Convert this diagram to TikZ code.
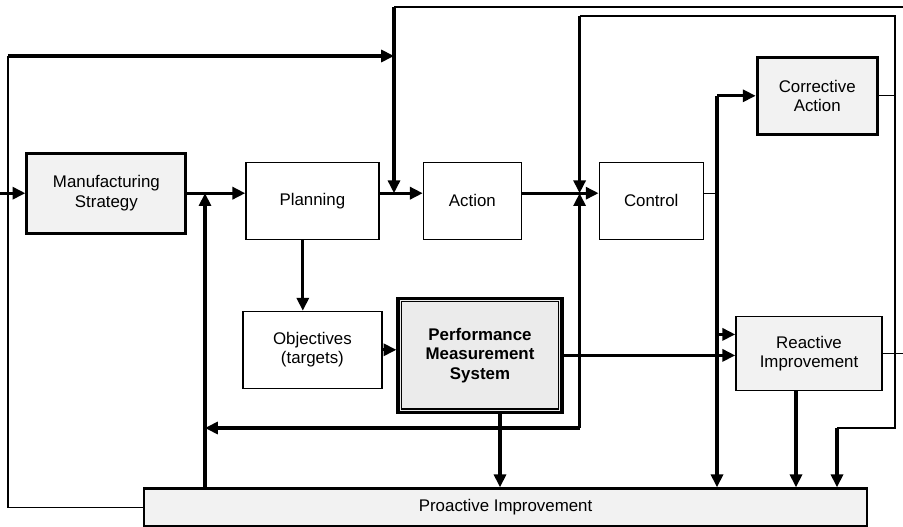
\documentclass[tikz,border=0pt]{standalone}
\usepackage{fontspec}
\setmainfont{Liberation Sans}
\usepackage{tikz}
\usetikzlibrary{arrows.meta,positioning}

\definecolor{boxgray}{gray}{0.95}
\definecolor{measgray}{gray}{0.92}

\begin{document}
\begin{tikzpicture}[
    node distance=4cm,
    box/.style={rectangle, draw, line width=0.9pt, align=center, minimum height=1.925cm, font=\fontsize{12}{13.8}\selectfont},
    keybox/.style={box, line width=2.2pt, fill=boxgray},
    measbox/.style={box, line width=2.3pt, fill=measgray, font=\fontsize{12}{13.8}\selectfont\bfseries},
    barbox/.style={box, line width=1.6pt, fill=boxgray, minimum height=0.95cm},
    flow/.style={-{Triangle[length=3.2mm,width=3mm]}, line width=2.2pt},
    link/.style={line width=0.9pt}
]
    \useasboundingbox (0,0) rectangle (22.575,-13.175);

    % Main row
    \node[keybox, minimum width=3.975cm, minimum height=2cm] (ms) at (2.66,-4.83) {Manufacturing\\Strategy};
    \node[box, minimum width=3.325cm, right of=ms, xshift=1.15cm, yshift=-0.19cm] (planning) {Planning};
    \node[box, minimum width=2.45cm, right of=planning] (action) {Action};
    \node[box, minimum width=2.6cm, right of=action, xshift=0.47cm] (control) {Control};
    \node[keybox, minimum width=3cm, right of=control, xshift=0.15cm, yshift=2.625cm] (corrective) {Corrective\\Action};

    % Lower row
    \node[box, minimum width=3.475cm, below of=planning, yshift=0.275cm] (objectives) {Objectives\\(targets)};
    \node[measbox, minimum width=4.1cm, minimum height=2.85cm, right of=objectives, xshift=0.19cm, yshift=-0.14cm] (pms) {Performance\\Measurement\\System};
    \draw[line width=0.9pt] ([shift={(0.125,-0.125)}]pms.north west) rectangle ([shift={(-0.125,0.125)}]pms.south east);
    \node[box, fill=boxgray, line width=1.1pt, minimum width=3.65cm, minimum height=1.85cm, right of=pms, xshift=4.225cm, yshift=0.05cm] (reactive) {Reactive\\Improvement};
    \node[barbox, minimum width=18.075cm, below of=pms, xshift=0.64cm, yshift=0.2cm] (proactive) {Proactive Improvement};

    % Junctions
    \coordinate (edgeL) at (0,0);
    \coordinate (edgeR) at (22.575,0);
    \coordinate (loopL) at (0.2,-1.4);
    \coordinate (topA) at (9.85,-0.175);
    \coordinate (topC) at (14.49,-0.4);
    \coordinate (backR) at (22.375,-0.4);
    \coordinate (fbM) at (14.49,-10.7);
    \coordinate (fbL) at (5.125,-10.7);
    \coordinate (fbR) at (20.925,-10.7);
    \coordinate (bus) at (17.925,-4.83);
    \coordinate (rIn) at ([yshift=0.475cm]reactive.west);
    \coordinate (pDown) at ([xshift=-0.24cm]planning.south);
    \coordinate (mDown) at ([xshift=0.5cm]pms.south);
    \coordinate (rDown) at ([xshift=-0.325cm]reactive.south);

    % Forward flow
    \draw[flow] (ms.west -| edgeL) -- (ms.west);
    \draw[flow] (ms.east) -- (ms.east -| planning.west);
    \draw[flow] (ms.east -| planning.east) -- (ms.east -| action.west);
    \draw[flow] (ms.east -| action.east) -- (ms.east -| control.west);
    \draw[flow] (pDown) -- (pDown |- objectives.north);
    \draw[flow] (objectives.east) -- (objectives.east -| pms.west);
    \draw[flow] (pms.east) -- (pms.east -| reactive.west);

    % Control outputs
    \draw[link] (control.east |- bus) -- (bus);
    \draw[flow] (bus |- corrective.west) -- (corrective.west);
    \draw[flow] (bus |- corrective.west) -- (bus |- proactive.north);
    \draw[flow] (rIn -| bus) -- (rIn);

    % Feedback loops
    \draw[link] (proactive.west) -| (loopL);
    \draw[flow] (loopL) -- (loopL -| topA);
    \draw[link] (topA) -- (topA -| edgeR);
    \draw[flow] (topA) -- (topA |- ms.east);
    \draw[flow] (fbL |- proactive.north) -- (fbL |- ms.east);
    \draw[flow] (fbM) -- (fbL);
    \draw[flow] (fbM) -- (fbM |- ms.east);
    \draw[flow] (topC) -- (topC |- ms.east);
    \draw[link] (corrective.east) -- (corrective.east -| backR);
    \draw[link] (topC) -- (backR) -- (backR |- fbR) -- (fbR);
    \draw[flow] (fbR) -- (fbR |- proactive.north);
    \draw[link] (reactive.east) -- (reactive.east -| edgeR);

    % Into proactive improvement
    \draw[flow] (mDown) -- (mDown |- proactive.north);
    \draw[flow] (rDown) -- (rDown |- proactive.north);
\end{tikzpicture}
\end{document}
